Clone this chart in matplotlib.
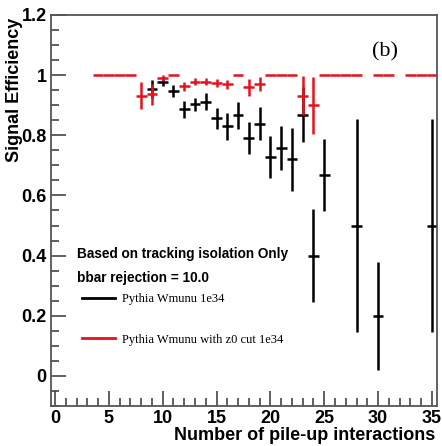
import matplotlib.pyplot as plt
from matplotlib.lines import Line2D
from matplotlib.ticker import MultipleLocator

plt.rcParams['font.family'] = ['Liberation Sans', 'DejaVu Sans']

# Efficacité du signal en fonction du nombre d'interactions (pile-up)
black_x = [9, 10, 11, 12, 13, 14, 15, 16, 17, 18, 19, 20, 21, 22, 23, 24, 25, 28, 30, 35]
black_y = [0.955, 0.978, 0.947, 0.886, 0.903, 0.912, 0.856, 0.830, 0.867, 0.792,
           0.838, 0.728, 0.757, 0.720, 0.869, 0.400, 0.667, 0.500, 0.200, 0.500]
black_err = [0.030, 0.015, 0.020, 0.027, 0.022, 0.027, 0.035, 0.045, 0.045, 0.053,
             0.055, 0.071, 0.073, 0.104, 0.090, 0.155, 0.120, 0.353, 0.180, 0.353]

red_x = [4, 5, 6, 7, 8, 9, 10, 11, 12, 13, 14, 15, 16, 17, 18, 19, 20, 21, 22,
         23, 24, 25, 26, 27, 28, 30, 31, 33, 34, 35]
red_y = [1, 1, 1, 1, 0.932, 0.937, 0.989, 1, 0.963, 0.978, 0.978, 0.975, 0.969, 1,
         0.960, 0.970, 1, 1, 1, 0.932, 0.900, 1, 1, 1, 1, 1, 1, 1, 1, 1]
red_err = [0, 0, 0, 0, 0.045, 0.035, 0.010, 0, 0.015, 0.012, 0.012, 0.013, 0.015, 0,
           0.028, 0.023, 0, 0, 0, 0.065, 0.095, 0, 0, 0, 0, 0, 0, 0, 0, 0]

black_label = "Pythia Wmunu 1e34"
red_label = "Pythia Wmunu with z0 cut 1e34"

fig = plt.figure(figsize=(4.42, 4.46), dpi=100)
ax = fig.add_axes([0.1154, 0.0897, 0.8733, 0.8767])

ax.errorbar(black_x, black_y, yerr=black_err, xerr=0.5, fmt='none',
            ecolor='black', elinewidth=1.8, capsize=0)
ax.errorbar(red_x, red_y, yerr=red_err, xerr=0.5, fmt='none',
            ecolor='#e8101a', elinewidth=1.8, capsize=0)

ax.set_xlim(-0.37, 35.47)
ax.set_ylim(-0.1, 1.195)

ax.xaxis.set_major_locator(MultipleLocator(5))
ax.xaxis.set_minor_locator(MultipleLocator(1))
ax.yaxis.set_major_locator(MultipleLocator(0.2))
ax.yaxis.set_minor_locator(MultipleLocator(0.05))
ax.tick_params(which='both', direction='in', color='#444444', width=1.2)
ax.tick_params(which='major', length=11, labelsize=13, pad=3)
ax.tick_params(which='minor', length=5.5)
ax.set_xticks([0, 5, 10, 15, 20, 25, 30, 35])
ax.set_xticklabels(['0', '5', '10', '15', '20', '25', '30', '35'], fontweight='bold')
ax.set_yticks([0, 0.2, 0.4, 0.6, 0.8, 1.0, 1.2])
ax.set_yticklabels(['0', '0.2', '0.4', '0.6', '0.8', '1', '1.2'], fontweight='bold')
for s in ax.spines.values():
    s.set_color('#555555')
    s.set_linewidth(1.3)

fig.text(0.032, 0.96, "Signal Efficiency", rotation=90, ha='center', va='top',
         fontsize=13, fontweight='bold')
fig.text(0.985, 0.005, "Number of pile-up interactions", ha='right', va='bottom',
         fontsize=13, fontweight='bold')

ax.text(0.865, 0.905, "(b)", transform=ax.transAxes, ha='center', va='center',
        fontsize=16, family='Liberation Serif')
fig.text(0.174, 0.43, "Based on tracking isolation Only", ha='left', va='center',
         fontsize=9.8, fontweight='bold')
fig.text(0.174, 0.376, "bbar rejection = 10.0", ha='left', va='center',
         fontsize=9.8, fontweight='bold')

handles = [Line2D([], [], color='black', lw=2),
           Line2D([], [], color='#e8101a', lw=2)]
ax.legend(handles, [black_label, red_label], loc='upper left',
          bbox_to_anchor=(0.186, 0.343), bbox_transform=fig.transFigure,
          frameon=False, borderpad=0, borderaxespad=0, handlelength=2.6,
          handletextpad=0.55, labelspacing=2.3,
          prop={'family': 'Liberation Serif', 'size': 9})

fig.savefig("out.png", dpi=100)
